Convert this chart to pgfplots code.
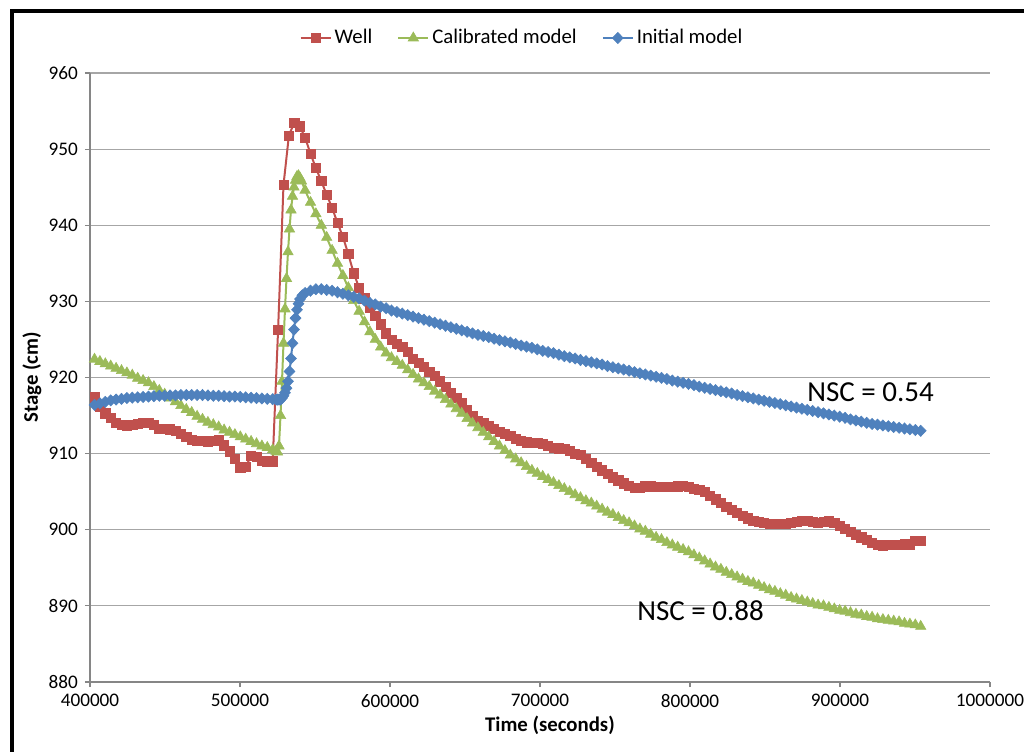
\documentclass[border=0pt]{standalone}
\usepackage{fontspec}
\setmainfont{Carlito}
\usepackage{pgfplots}
\pgfplotsset{compat=1.18}

\definecolor{wellred}{HTML}{C0504D}
\definecolor{calgreen}{HTML}{9BBB59}
\definecolor{initblue}{HTML}{4F81BD}
\definecolor{gridgray}{HTML}{A6A6A6}
\definecolor{axisgray}{HTML}{868686}

% Observed stage in the well (hourly)
\pgfplotstableread{
t v
403000 917.4
406600 916.1
410200 915.3
413800 914.7
417400 914.0
421000 913.8
424600 913.7
428200 913.8
431800 913.9
435400 914.1
439000 914.1
442600 913.8
446200 913.3
449800 913.3
453400 913.2
457000 913.0
460600 912.6
464200 912.2
467800 911.8
471400 911.7
475000 911.7
478600 911.6
482200 911.7
485800 911.8
489400 911.1
493000 910.3
496600 909.3
500200 908.2
503800 908.3
507400 909.7
511000 909.6
514600 909.1
518200 909.0
521800 909.0
525400 926.3
529000 945.3
532600 951.8
536200 953.5
539800 953.0
543400 951.5
547000 949.4
550600 947.5
554200 945.8
557800 944.0
561400 942.3
565000 940.3
568600 938.5
572200 936.2
575800 933.7
579400 931.8
583000 930.4
586600 929.2
590200 928.1
593800 927.0
597400 925.8
601000 925.0
604600 924.4
608200 924.0
611800 923.4
615400 922.5
619000 921.9
622600 921.4
626200 920.8
629800 920.2
633400 919.5
637000 918.8
640600 918.0
644200 917.3
647800 916.6
651400 915.8
655000 915.0
658600 914.3
662200 914.0
665800 913.7
669400 913.3
673000 912.9
676600 912.6
680200 912.3
683800 912.0
687400 911.7
691000 911.5
694600 911.4
698200 911.4
701800 911.3
705400 911.0
709000 910.8
712600 910.7
716200 910.6
719800 910.4
723400 910.0
727000 909.8
730600 909.3
734200 908.8
737800 908.3
741400 907.8
745000 907.3
748600 906.9
752200 906.5
755800 906.1
759400 905.8
763000 905.5
766600 905.5
770200 905.7
773800 905.7
777400 905.6
781000 905.6
784600 905.6
788200 905.6
791800 905.7
795400 905.8
799000 905.6
802600 905.4
806200 905.2
809800 905.0
813400 904.5
817000 904.0
820600 903.5
824200 903.0
827800 902.6
831400 902.2
835000 901.8
838600 901.5
842200 901.2
845800 901.0
849400 900.9
853000 900.8
856600 900.8
860200 900.8
863800 900.8
867400 900.9
871000 901.0
874600 901.2
878200 901.2
881800 901.0
885400 900.9
889000 901.0
892600 901.2
896200 900.9
899800 900.5
903400 900.1
907000 899.7
910600 899.3
914200 899.0
917800 898.7
921400 898.3
925000 898.0
928600 897.9
932200 898.0
935800 898.0
939400 898.0
943000 898.1
946600 898.1
950200 898.5
953800 898.5
}\welldata

% Calibrated model output
\pgfplotstableread{
t v
403000 922.4
406600 922.1
410200 921.8
413800 921.5
417400 921.2
421000 920.9
424600 920.6
428200 920.3
431800 919.9
435400 919.6
439000 919.3
442600 918.8
446200 918.3
449800 917.8
453400 917.3
457000 916.8
460600 916.3
464200 915.8
467800 915.4
471400 914.9
475000 914.5
478600 914.1
482200 913.8
485800 913.5
489400 913.1
493000 912.8
496600 912.5
500200 912.2
503800 911.9
507400 911.6
511000 911.3
514600 911.0
518200 910.8
521800 910.5
524000 910.3
525000 910.2
526000 911.0
527000 915.0
528000 919.5
529000 924.5
530000 929.0
531000 933.0
532000 936.5
533000 939.5
534000 942.0
535000 943.8
536000 945.0
537000 945.9
538000 946.4
539000 946.5
540000 946.2
541000 945.8
543400 944.6
547000 943.0
550600 941.5
554200 940.0
557800 938.4
561400 936.7
565000 935.0
568600 933.4
572200 931.8
575800 930.1
579400 928.7
583000 927.3
586600 926.0
590200 925.0
593800 924.0
597400 923.2
601000 922.6
604600 922.1
608200 921.6
611800 921.0
615400 920.4
619000 919.8
622600 919.3
626200 918.8
629800 918.2
633400 917.7
637000 917.1
640600 916.5
644200 915.9
647800 915.3
651400 914.6
655000 914.0
658600 913.4
662200 912.8
665800 912.2
669400 911.6
673000 911.0
676600 910.4
680200 909.8
683800 909.3
687400 908.8
691000 908.3
694600 907.8
698200 907.4
701800 907.0
705400 906.6
709000 906.2
712600 905.8
716200 905.4
719800 905.0
723400 904.6
727000 904.2
730600 903.8
734200 903.5
737800 903.1
741400 902.7
745000 902.3
748600 902.0
752200 901.6
755800 901.2
759400 900.9
763000 900.5
766600 900.1
770200 899.8
773800 899.4
777400 899.0
781000 898.7
784600 898.3
788200 898.0
791800 897.7
795400 897.4
799000 897.1
802600 896.7
806200 896.3
809800 895.9
813400 895.5
817000 895.1
820600 894.8
824200 894.4
827800 894.1
831400 893.8
835000 893.5
838600 893.2
842200 893.0
845800 892.7
849400 892.4
853000 892.1
856600 891.9
860200 891.6
863800 891.4
867400 891.1
871000 890.9
874600 890.7
878200 890.5
881800 890.3
885400 890.1
889000 890.0
892600 889.8
896200 889.6
899800 889.4
903400 889.3
907000 889.1
910600 888.9
914200 888.8
917800 888.6
921400 888.5
925000 888.3
928600 888.2
932200 888.1
935800 888.0
939400 887.9
943000 887.7
946600 887.6
950200 887.5
953800 887.3
}\caldata

% Initial (uncalibrated) model output
\pgfplotstableread{
t v
403000 916.4
406600 916.6
410200 916.8
413800 917.0
417400 917.1
421000 917.2
424600 917.3
428200 917.35
431800 917.4
435400 917.45
439000 917.5
442600 917.55
446200 917.6
449800 917.6
453400 917.65
457000 917.65
460600 917.7
464200 917.7
467800 917.7
471400 917.7
475000 917.7
478600 917.65
482200 917.6
485800 917.6
489400 917.55
493000 917.5
496600 917.5
500200 917.45
503800 917.4
507400 917.35
511000 917.3
514600 917.25
518200 917.2
521800 917.15
524000 917.1
525000 917.1
526000 917.1
527000 917.1
528000 917.3
529000 917.6
530000 918.0
531000 918.6
532000 919.5
533000 920.8
534000 922.5
535000 924.5
536000 926.3
537000 927.8
538000 928.9
539000 929.7
540000 930.3
541600 930.8
543400 931.1
547000 931.4
550600 931.6
554200 931.6
557800 931.5
561400 931.4
565000 931.2
568600 931.0
572200 930.8
575800 930.6
579400 930.4
583000 930.1
586600 929.8
590200 929.6
593800 929.3
597400 929.1
601000 928.8
604600 928.6
608200 928.4
611800 928.2
615400 928.0
619000 927.8
622600 927.6
626200 927.4
629800 927.2
633400 927.0
637000 926.8
640600 926.6
644200 926.4
647800 926.2
651400 926.0
655000 925.8
658600 925.6
662200 925.45
665800 925.3
669400 925.1
673000 924.9
676600 924.75
680200 924.6
683800 924.4
687400 924.2
691000 924.05
694600 923.9
698200 923.7
701800 923.5
705400 923.35
709000 923.2
712600 923.0
716200 922.8
719800 922.65
723400 922.5
727000 922.3
730600 922.15
734200 922.0
737800 921.85
741400 921.7
745000 921.5
748600 921.35
752200 921.2
755800 921.05
759400 920.9
763000 920.7
766600 920.55
770200 920.4
773800 920.25
777400 920.1
781000 919.95
784600 919.8
788200 919.6
791800 919.45
795400 919.3
799000 919.15
802600 919.0
806200 918.8
809800 918.65
813400 918.5
817000 918.35
820600 918.2
824200 918.05
827800 917.9
831400 917.7
835000 917.55
838600 917.4
842200 917.25
845800 917.1
849400 916.95
853000 916.8
856600 916.65
860200 916.5
863800 916.35
867400 916.2
871000 916.05
874600 915.9
878200 915.75
881800 915.6
885400 915.45
889000 915.3
892600 915.15
896200 915.0
899800 914.85
903400 914.7
907000 914.5
910600 914.35
914200 914.2
917800 914.05
921400 913.9
925000 913.8
928600 913.7
932200 913.6
935800 913.5
939400 913.4
943000 913.3
946600 913.2
950200 913.1
953800 913.0
}\initdata

\begin{document}
\begin{tikzpicture}[x=0.5pt,y=0.5pt]
\useasboundingbox (0,0) rectangle (1024,751);
% outer chart frame
\draw[line width=2pt] (11.5,-20) -- (11.5,739.5) -- (1100,739.5);
\begin{axis}[
  at={(45pt,34.5pt)}, anchor=south west,
  scale only axis, width=450pt, height=304.5pt,
  xmin=400000, xmax=1000000, ymin=880, ymax=960,
  xtick={400000,500000,600000,700000,800000,900000,1000000},
  xticklabels={400000,500000,600000,700000,800000,900000,1000000},
  scaled x ticks=false,
  ytick={880,890,900,910,920,930,940,950,960},
  /pgf/number format/assume math mode=true,
  axis lines=left,
  axis line style={-, draw=axisgray, line width=0.6pt},
  ymajorgrids,
  grid style={gridgray, line width=0.6pt},
  tick align=outside,
  major tick length=2.5pt,
  tick style={axisgray, line width=0.6pt},
  ticklabel style={font=\fontsize{9.6}{11}\selectfont, black},
  xlabel={\textbf{Time (seconds)}},
  ylabel={\textbf{Stage (cm)}},
  label style={font=\fontsize{10.4}{12}\selectfont},
  xlabel style={at={(axis description cs:0.511,-0.0706)}, anchor=center},
  ylabel style={at={(axis description cs:-0.0644,0.5)}, anchor=center},
  legend columns=3,
  legend style={at={(0.4806,1.0575)}, anchor=center, draw=none, fill=none,
    font=\fontsize{10.4}{12}\selectfont,
    /tikz/every even column/.append style={column sep=11pt},
    nodes={inner sep=1.5pt}},
  legend image code/.code={\draw[mark repeat=2,mark phase=2,#1] plot coordinates {(0pt,0pt) (7.5pt,0pt) (15pt,0pt)};},
]
\addplot[color=wellred, line width=1pt, mark=square*, mark size=2.3pt,
  mark options={solid, fill=wellred, draw=wellred, line width=0.3pt}] table[x=t, y=v] {\welldata};
\addlegendentry{Well}
\addplot[color=calgreen, line width=1pt, mark=triangle*, mark size=3pt,
  mark options={solid, fill=calgreen, draw=calgreen, line width=0.3pt}] table[x=t, y=v] {\caldata};
\addlegendentry{Calibrated model}
\addplot[color=initblue, line width=1pt, mark=diamond*, mark size=2.8pt,
  mark options={solid, fill=initblue, draw=initblue, line width=0.3pt, xscale=1.3}] table[x=t, y=v] {\initdata};
\addlegendentry{Initial model}
\node[anchor=west, font=\fontsize{14.5}{17}\selectfont, inner sep=0pt] at (axis cs:878000,918.1) {NSC = 0.54};
\node[anchor=west, font=\fontsize{14.5}{17}\selectfont, inner sep=0pt] at (axis cs:764667,889.3) {NSC = 0.88};
\end{axis}
\end{tikzpicture}
\end{document}
